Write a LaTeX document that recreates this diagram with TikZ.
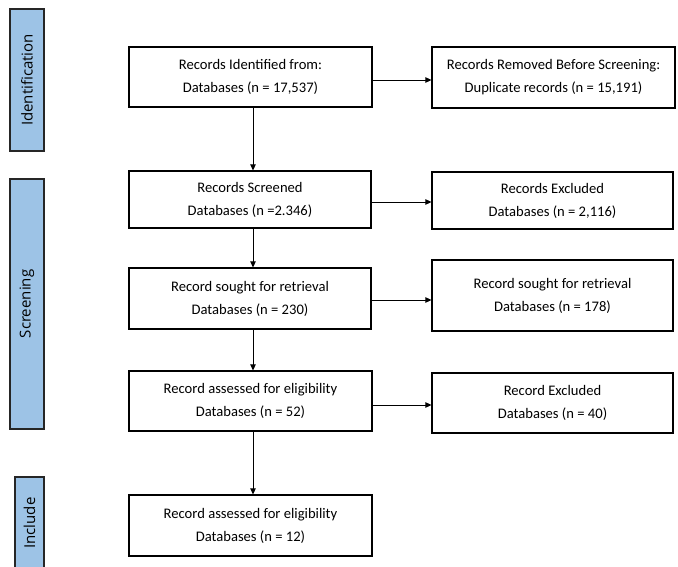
\documentclass[tikz,border=0pt]{standalone}
\usepackage{fontspec}
\setmainfont{Carlito}
\newfontfamily\sidefont{Open Sans}
\usetikzlibrary{arrows.meta}
\definecolor{sideblue}{HTML}{9DC3E6}
\tikzset{
  box/.style={draw=black, line width=1.2pt, align=center, font=\fontsize{14.6}{23}\selectfont, inner sep=0pt},
  side/.style={draw=black!85, fill=sideblue, line width=1.3pt, inner sep=0pt, minimum width=34pt},
  sidetext/.style={rotate=90, font=\sidefont\fontsize{15}{16}\selectfont},
  arr/.style={draw=black, line width=0.9pt, -{Triangle[length=6pt,width=5.5pt]}}
}
\begin{document}
\begin{tikzpicture}[x=1pt,y=-1pt]
\useasboundingbox (0,0) rectangle (678,567);
% side bars
\node[side, minimum height=142pt] (sid) at (27,80) {};
\node[sidetext] (sidt) at (sid.center) {Identification};
\node[side, minimum height=250pt] (sscr) at (27,304) {};
\node[sidetext] (sscrt) at (sscr.center) {Screening};
\node[side, minimum width=29pt, minimum height=94pt] (sinc) at (29.5,524) {};
\node[sidetext] (sinct) at (29.5,523) {Include};
% main boxes
\node[box, minimum width=243pt, minimum height=60pt] (b1) at (250.5,77) {Records Identified from:\\Databases (n = 17,537)};
\node[box, minimum width=242pt, minimum height=57pt] (b2) at (250,199.5) {Records Screened\\Databases (n =2.346)};
\node[box, minimum width=242pt, minimum height=61pt] (b3) at (250,298.5) {Record sought for retrieval\\Databases (n = 230)};
\node[box, minimum width=243pt, minimum height=60pt] (b4) at (250.5,401) {Record assessed for eligibility\\Databases (n = 52)};
\node[box, minimum width=243pt, minimum height=61pt] (b5) at (250.5,525.5) {Record assessed for eligibility\\Databases (n = 12)};
% right boxes
\node[box, minimum width=243pt, minimum height=61pt] (r1) at (553.5,77.5) {Records Removed Before Screening:\\Duplicate records (n = 15,191)};
\node[box, minimum width=241pt, minimum height=57pt] (r2) at (552.5,200.5) {Records Excluded\\Databases (n = 2,116)};
\node[box, minimum width=241pt, minimum height=71pt] (r3) at (552.5,295.5) {Record sought for retrieval\\Databases (n = 178)};
\node[box, minimum width=241pt, minimum height=60pt] (r4) at (552.5,403) {Record Excluded\\Databases (n = 40)};
% vertical arrows
\draw[arr] ([xshift=2.5pt]b1.south) -- ([xshift=2.5pt]b1.south |- b2.north);
\draw[arr] ([xshift=3pt]b2.south) -- ([xshift=3pt]b2.south |- b3.north);
\draw[arr] ([xshift=3pt]b3.south) -- ([xshift=3pt]b3.south |- b4.north);
\draw[arr] ([xshift=2.5pt]b4.south) -- ([xshift=2.5pt]b4.south |- b5.north);
% horizontal arrows
\draw[arr] ([yshift=-3pt]b1.east) -- ([yshift=-3pt]b1.east -| r1.west);
\draw[arr] ([yshift=-2.5pt]b2.east) -- ([yshift=-2.5pt]b2.east -| r2.west);
\draw[arr] ([yshift=-1.5pt]b3.east) -- ([yshift=-1.5pt]b3.east -| r3.west);
\draw[arr] ([yshift=-4pt]b4.east) -- ([yshift=-4pt]b4.east -| r4.west);
\end{tikzpicture}
\end{document}
